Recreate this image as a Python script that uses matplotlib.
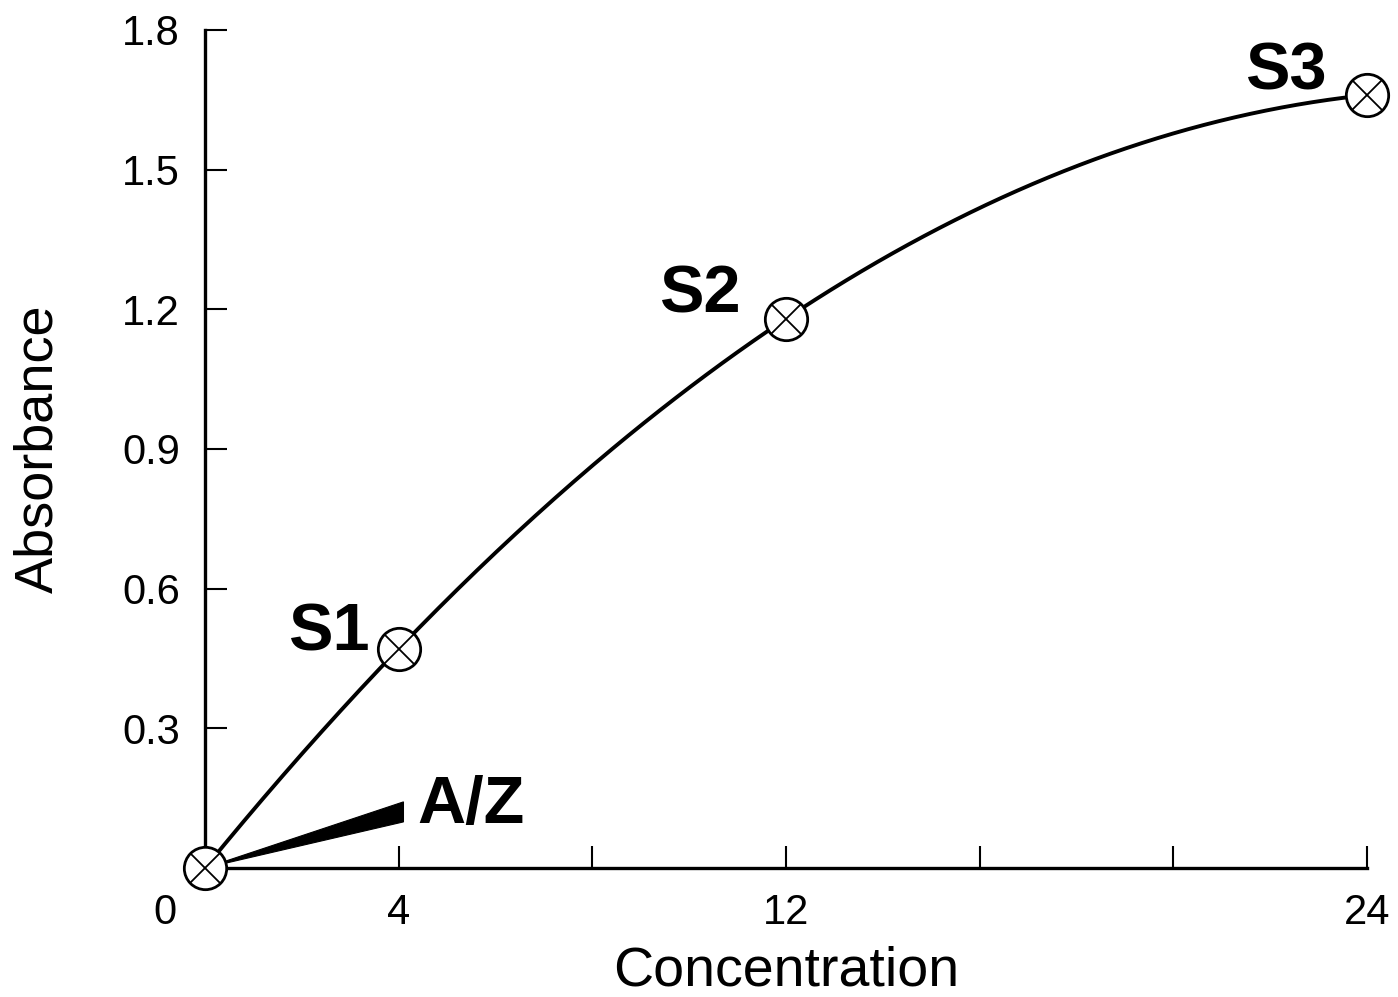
import numpy as np
import matplotlib
matplotlib.use("Agg")
import matplotlib.pyplot as plt
from matplotlib.patches import Polygon
from matplotlib.transforms import ScaledTranslation

plt.rcParams['font.family'] = ['Liberation Sans', 'DejaVu Sans']

# Calibration standards
concentration = [0, 4, 12, 24]
absorbance = [0.0, 0.47, 1.18, 1.66]
point_labels = ["", "S1", "S2", "S3"]

x_ticks = [0, 4, 8, 12, 16, 20, 24]
x_tick_labels = ["0", "4", "", "12", "", "", "24"]
y_ticks = [0.0, 0.3, 0.6, 0.9, 1.2, 1.5, 1.8]
y_tick_labels = ["", "0.3", "0.6", "0.9", "1.2", "1.5", "1.8"]

fig = plt.figure(figsize=(13.98, 9.97), dpi=100)
ax = fig.add_axes([0.1466, 0.1294, 0.8312, 0.8406])

# Smooth calibration curve through the standards
coef = np.polyfit(concentration, absorbance, 2)
xs = np.linspace(0, 24, 300)
ax.plot(xs, np.polyval(coef, xs), color="black", lw=2.8, zorder=2, solid_capstyle="round")

# Wedge pointing to the blank (A/Z)
wedge = Polygon([(0.0, 0.0), (4.1, 0.142), (4.1, 0.099)], closed=True,
                facecolor="black", edgecolor="black", lw=0.8, zorder=2)
ax.add_patch(wedge)

# Circled-cross markers
ax.plot(concentration, absorbance, linestyle="none", marker="o", ms=30.5,
        mfc="white", mec="black", mew=2.0, zorder=4, clip_on=False)
ax.plot(concentration, absorbance, linestyle="none", marker="x", ms=21,
        mec="black", mew=1.3, zorder=5, clip_on=False)

label_pos = {"S1": (2.56, 0.467), "S2": (10.22, 1.192), "S3": (22.33, 1.671)}
for name in point_labels:
    if name:
        lx, ly = label_pos[name]
        ax.text(lx, ly, name, fontsize=48, fontweight="bold", ha="center", va="baseline")
ax.text(5.49, 0.097, "A/Z", fontsize=48, fontweight="bold", ha="center", va="baseline")

ax.set_xlim(0, 24)
ax.set_ylim(0, 1.8)
ax.set_xticks(x_ticks)
ax.set_xticklabels(x_tick_labels)
ax.set_yticks(y_ticks)
ax.set_yticklabels(y_tick_labels)

for side in ("top", "right"):
    ax.spines[side].set_visible(False)
for side in ("left", "bottom"):
    ax.spines[side].set_linewidth(2.4)

ax.tick_params(axis="both", direction="in", length=16, width=1.5, labelsize=30)
ax.tick_params(axis="x", pad=18)
ax.tick_params(axis="y", pad=18)

# Shift the origin label to the left of the axis corner
zero_lbl = ax.get_xticklabels()[0]
zero_lbl.set_transform(zero_lbl.get_transform() + ScaledTranslation(-0.40, 0, fig.dpi_scale_trans))

ax.set_xlabel("Concentration", fontsize=40, labelpad=9)
ax.set_ylabel("Absorbance", fontsize=39, labelpad=42)

fig.savefig("out.png", dpi=100)
